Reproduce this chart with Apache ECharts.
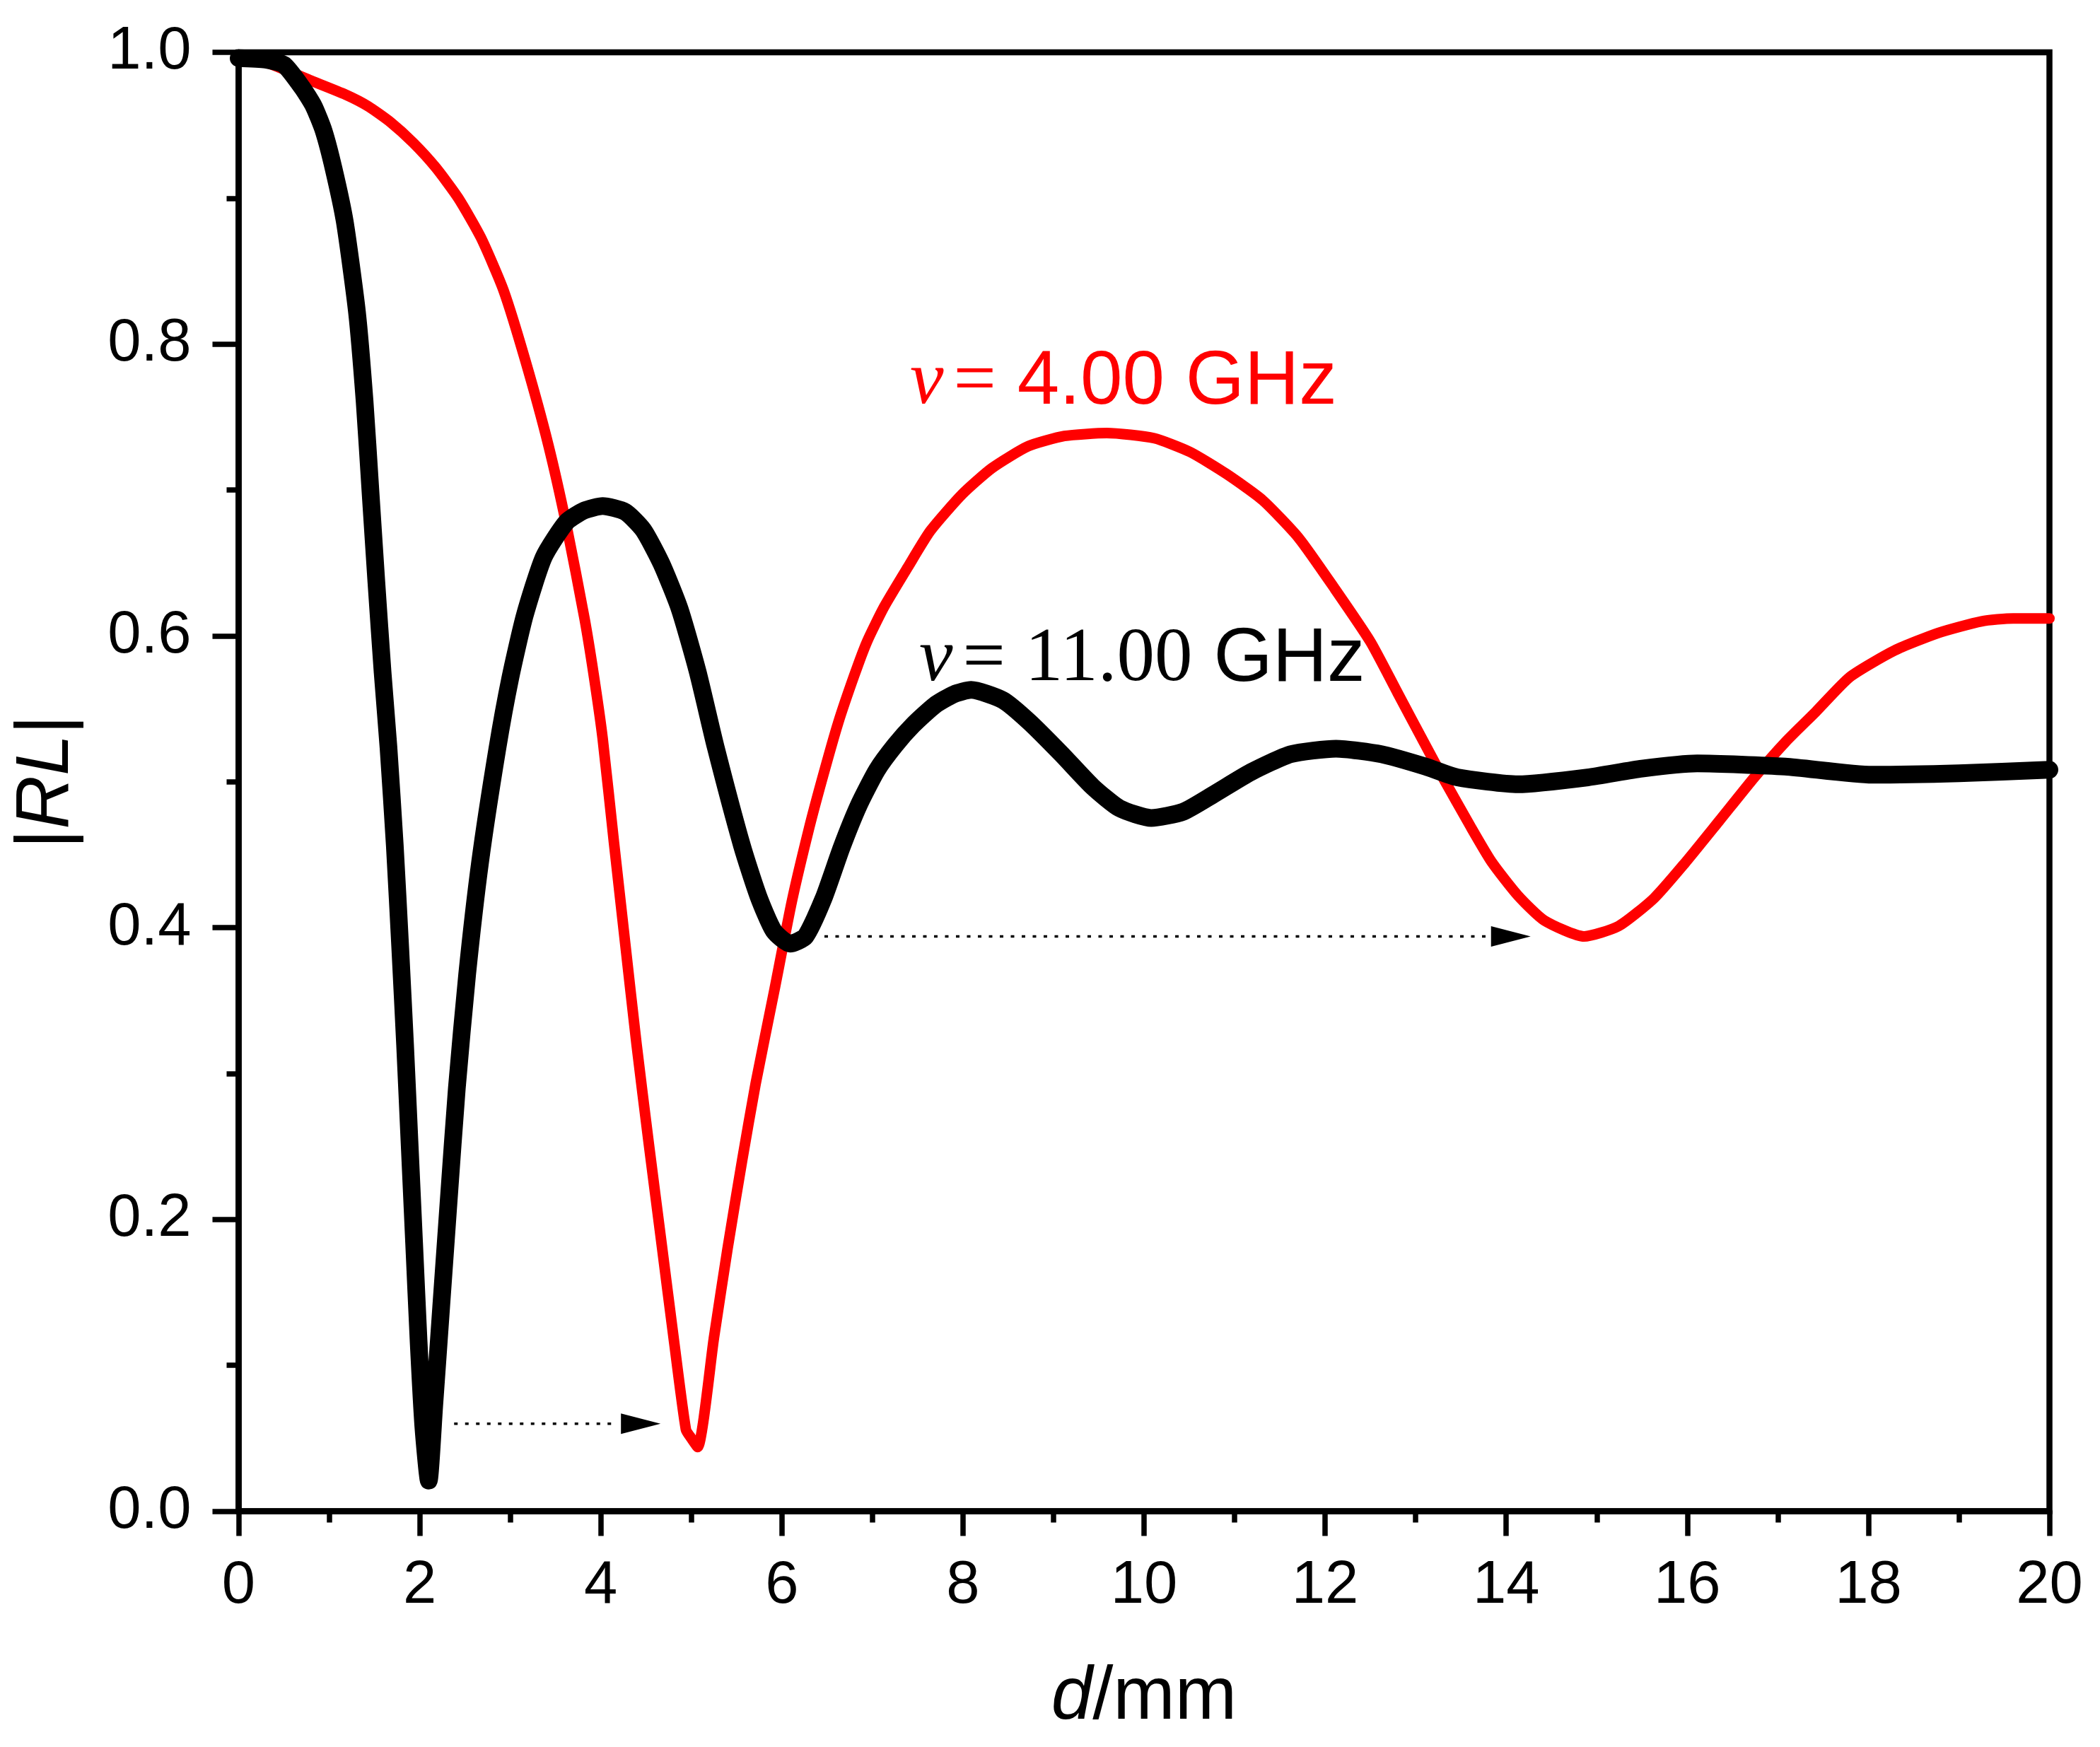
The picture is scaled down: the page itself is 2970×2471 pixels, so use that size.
<!DOCTYPE html>
<html>
<head>
<meta charset="utf-8">
<title>|RL| vs d</title>
<script src="https://cdn.jsdelivr.net/npm/echarts@6/dist/echarts.min.js"></script>
<style>
  html, body { margin: 0; padding: 0; background: #fff; }
  #chart { width: 2970px; height: 2471px; }
</style>
</head>
<body>
<div id="chart"></div>
<script>
// axis ticks
var xTicks = [0, 2, 4, 6, 8, 10, 12, 14, 16, 18, 20];
var yTicks = [0.0, 0.2, 0.4, 0.6, 0.8, 1.0];

// nu = 4.00 GHz (red)
var redD = [0, 0.35, 0.784, 1.182, 1.431, 1.68, 1.929, 2.178, 2.427, 2.676, 2.925, 3.17, 3.42, 3.62,
  3.82, 3.92, 4.02, 4.146, 4.27, 4.395, 4.53, 4.67, 4.81, 4.94, 5.0, 5.07, 5.25, 5.40, 5.56, 5.71,
  5.92, 6.11, 6.3, 6.45, 6.62, 6.8, 6.94, 7.13, 7.39, 7.64, 7.99, 8.32, 8.72, 9.12, 9.59,
  10.11, 10.51, 10.91, 11.31, 11.71, 12.11, 12.5, 12.8, 13.1, 13.3, 13.6, 13.84, 14.13, 14.42,
  14.86, 15.24, 15.63, 15.97, 16.35, 16.74, 17.08, 17.42, 17.8, 18.29, 18.77, 19.25, 19.6, 20];
var redRL = [0.997, 0.992, 0.981, 0.971, 0.963, 0.952, 0.938, 0.921, 0.900, 0.873, 0.837, 0.788, 0.731, 0.676,
  0.612, 0.574, 0.530, 0.458, 0.389, 0.320, 0.252, 0.184, 0.116, 0.056, 0.050, 0.044, 0.119, 0.180, 0.240, 0.293,
  0.358, 0.418, 0.468, 0.503, 0.540, 0.573, 0.596, 0.620, 0.647, 0.672, 0.697, 0.715, 0.730, 0.737, 0.739,
  0.7355, 0.726, 0.711, 0.693, 0.667, 0.632, 0.596, 0.561, 0.526, 0.503, 0.470, 0.445, 0.422, 0.405,
  0.394, 0.401, 0.420, 0.444, 0.473, 0.503, 0.527, 0.548, 0.572, 0.590, 0.602, 0.610, 0.612, 0.612];

// nu = 11.00 GHz (black)
var blackD = [0, 0.3, 0.5, 0.7, 0.83, 0.94, 1.05, 1.172, 1.307, 1.391, 1.456, 1.521, 1.59, 1.655,
  1.725, 1.785, 1.838, 1.888, 1.938, 1.988, 2.04, 2.10, 2.16, 2.237, 2.32, 2.41, 2.524, 2.667,
  2.857, 3.0, 3.16, 3.37, 3.62, 3.82, 4.02, 4.27, 4.47, 4.67, 4.87, 5.07, 5.27, 5.56,
  5.74, 5.91, 6.09, 6.26, 6.46, 6.66, 6.85, 7.05, 7.25, 7.45, 7.69, 7.9, 8.09, 8.44, 8.73, 9.09, 9.43,
  9.73, 10.08, 10.43, 10.78, 11.18, 11.62, 12.12, 12.62, 13.11, 13.46, 14.13, 14.9, 15.5,
  16.11, 17.08, 18.04, 19.0, 20];
var blackRL = [0.996, 0.995, 0.9915, 0.976, 0.963, 0.946, 0.920, 0.884, 0.822, 0.761, 0.699, 0.637, 0.575, 0.5235,
  0.456, 0.386, 0.320, 0.252, 0.184, 0.116, 0.058, 0.021, 0.072, 0.140, 0.213, 0.290, 0.368, 0.445,
  0.5225, 0.571, 0.614, 0.654, 0.678, 0.686, 0.689, 0.685, 0.6726, 0.6495, 0.6186, 0.5754, 0.5235, 0.456,
  0.4216, 0.3978, 0.389, 0.394, 0.420, 0.455, 0.484, 0.508, 0.525, 0.539, 0.5525, 0.560, 0.563, 0.556, 0.5412, 0.5189, 0.4967,
  0.4818, 0.4752, 0.4794, 0.4918, 0.5066, 0.5189, 0.5227, 0.5189, 0.5104, 0.503, 0.4983, 0.503, 0.509,
  0.5126, 0.5104, 0.5048, 0.5058, 0.5082];

// dotted arrows: [from d, |RL|, to d]
var arrowFrom = [2.38, 6.47];
var arrowY = [0.060, 0.394];
var arrowTo = [4.66, 14.27];

function pairs(xs, ys) {
  var out = [];
  for (var i = 0; i < xs.length; i++) out.push([xs[i], ys[i]]);
  return out;
}

var arrowData = [];
for (var i = 0; i < arrowFrom.length; i++) {
  arrowData.push([arrowFrom[i], arrowY[i], arrowTo[i]]);
}

var SANS = 'Liberation Sans, Arial, sans-serif';
var SERIF = 'Liberation Serif, Times New Roman, serif';
var HEAD_LEN = 56, HEAD_HALF = 14.5;
var NOTE_SIZE = 107;

var chart = echarts.init(document.getElementById('chart'));

chart.setOption({
  animation: false,
  backgroundColor: '#fff',
  grid: {
    left: 337.5, top: 74, right: 71.5, bottom: 333.5,
    show: true, borderColor: '#000', borderWidth: 8.5
  },
  xAxis: {
    type: 'value',
    min: xTicks[0], max: xTicks[xTicks.length - 1], interval: 2,
    name: '{i|d}/mm',
    nameLocation: 'middle',
    nameGap: 212,
    nameTextStyle: {
      fontFamily: SANS, fontSize: 105, color: '#000',
      rich: { i: { fontFamily: SANS, fontSize: 105, fontStyle: 'italic', color: '#000' } }
    },
    axisLine: { show: true, onZero: false, lineStyle: { color: '#000', width: 8.5 } },
    axisTick: { show: true, length: 35, lineStyle: { color: '#000', width: 7.5 } },
    minorTick: { show: true, splitNumber: 2, length: 16, lineStyle: { color: '#000', width: 7.5 } },
    splitLine: { show: false },
    axisLabel: { margin: 64, fontFamily: SANS, fontSize: 85, color: '#000' }
  },
  yAxis: {
    type: 'value',
    min: yTicks[0], max: yTicks[yTicks.length - 1], interval: 0.2,
    name: '|{i|RL}|',
    nameLocation: 'middle',
    nameGap: 218,
    nameTextStyle: {
      fontFamily: SANS, fontSize: 105, color: '#000',
      rich: { i: { fontFamily: SANS, fontSize: 105, fontStyle: 'italic', color: '#000' } }
    },
    axisLine: { show: true, onZero: false, lineStyle: { color: '#000', width: 8.5 } },
    axisTick: { show: true, length: 37, lineStyle: { color: '#000', width: 7.5 } },
    minorTick: { show: true, splitNumber: 2, length: 17, lineStyle: { color: '#000', width: 7.5 } },
    splitLine: { show: false },
    axisLabel: {
      margin: 67, fontFamily: SANS, fontSize: 85, color: '#000',
      formatter: function(v) { return v.toFixed(1); }
    }
  },
  series: [
    {
      name: '4.00 GHz',
      type: 'line',
      data: pairs(redD, redRL),
      symbol: 'none',
      smooth: 0.2,
      lineStyle: { color: '#ff0000', width: 15, cap: 'round', join: 'round' },
      z: 2
    },
    {
      name: '11.00 GHz',
      type: 'line',
      data: pairs(blackD, blackRL),
      symbol: 'none',
      smooth: 0.2,
      lineStyle: { color: '#000', width: 25, cap: 'round', join: 'round' },
      z: 3
    },
    {
      type: 'custom',
      data: arrowData,
      encode: { x: [0, 2], y: 1 },
      silent: true,
      z: 4,
      renderItem: function(params, api) {
        var p1 = api.coord([api.value(0), api.value(1)]);
        var p2 = api.coord([api.value(2), api.value(1)]);
        return {
          type: 'group',
          children: [
            {
              type: 'line',
              shape: { x1: p1[0], y1: p1[1], x2: p2[0] - HEAD_LEN - 6, y2: p2[1] },
              style: { stroke: '#000', lineWidth: 3.5, lineDash: [5, 10.5] }
            },
            {
              type: 'polygon',
              shape: { points: [[p2[0], p2[1]], [p2[0] - HEAD_LEN, p2[1] - HEAD_HALF], [p2[0] - HEAD_LEN, p2[1] + HEAD_HALF]] },
              style: { fill: '#000' }
            }
          ]
        };
      }
    }
  ],
  graphic: [
    {
      type: 'text',
      left: 1287, top: 488,
      style: {
        text: '{nu|ν}{eq|=}{n|4.00 GHz}',
        fill: '#ff0000',
        font: NOTE_SIZE + 'px ' + SANS,
        rich: {
          nu: { fontFamily: SERIF, fontStyle: 'italic', fontSize: NOTE_SIZE, fill: '#ff0000' },
          eq: { fontFamily: SERIF, fontSize: NOTE_SIZE, fill: '#ff0000', padding: [0, 0, 0, 14] },
          n: { fontFamily: SANS, fontSize: NOTE_SIZE, fill: '#ff0000', padding: [0, 0, 0, 30] }
        }
      }
    },
    {
      type: 'text',
      left: 1300, top: 880,
      style: {
        text: '{nu|ν}{eq|=}{sr|11.00}{n|GHz}',
        fill: '#000',
        font: NOTE_SIZE + 'px ' + SANS,
        rich: {
          nu: { fontFamily: SERIF, fontStyle: 'italic', fontSize: NOTE_SIZE, fill: '#000' },
          eq: { fontFamily: SERIF, fontSize: NOTE_SIZE, fill: '#000', padding: [0, 0, 0, 14] },
          sr: { fontFamily: SERIF, fontSize: NOTE_SIZE, fill: '#000', padding: [0, 0, 0, 28] },
          n: { fontFamily: SANS, fontSize: NOTE_SIZE, fill: '#000', padding: [0, 0, 0, 30] }
        }
      }
    }
  ]
});

window.addEventListener('resize', function() { chart.resize(); });
</script>
</body>
</html>
